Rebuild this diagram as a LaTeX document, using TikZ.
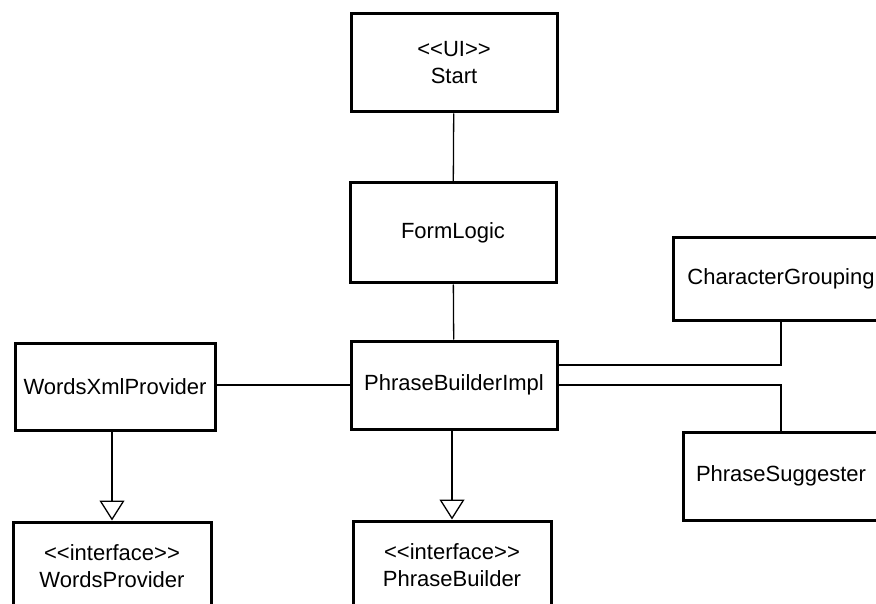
\documentclass[tikz,border=0pt]{standalone}
\usepackage{fontspec}
\setmainfont{Liberation Sans}
\usetikzlibrary{arrows.meta,positioning}
\tikzstyle{cls}=[rectangle, draw=black, fill=white, line width=3, inner sep=0pt, align=center, font=\fontsize{22}{27}\selectfont]
\tikzstyle{l1}=[line width=1.3]
\tikzstyle{realize}=[l1, -{Triangle[open, length=20pt, width=25pt, line width=1.3pt]}]
\newcommand{\stereo}[1]{<\kern0pt<#1>\kern0pt>}

\begin{document}
\begin{tikzpicture}[x=1pt, y=-1pt]
    \useasboundingbox (0,0) rectangle (876,604);
    \fill[white] (0,0) rectangle (876,604);
    \clip (0,0) rectangle (876,604);

    \node[cls, minimum width=206, minimum height=98] at (454,63) (start) {\stereo{UI}\\Start};
    \node[cls, minimum width=206, minimum height=100] at (453,233) (form) {FormLogic};
    \node[cls, minimum width=206, minimum height=88] at (454,385) (impl) {PhraseBuilderImpl};
    \node[cls, minimum width=200, minimum height=87] at (115,387) (wxml) {WordsXmlProvider};
    \node[cls, minimum width=198, minimum height=88] at (112,566) (wprov) {\stereo{interface}\\WordsProvider};
    \node[cls, minimum width=198, minimum height=88] at (452,565) (pbuild) {\stereo{interface}\\PhraseBuilder};
    \node[cls, minimum width=216, minimum height=83] at (781,279) (cgroup) {CharacterGrouping};
    \node[cls, minimum width=196, minimum height=88] at (781,476) (sugg) {PhraseSuggester};

    \draw[l1] (start) -- (form);
    \draw[l1] (form) -- (impl);
    \draw[l1] (impl.west) -- (impl.west -| wxml.east);
    \draw[l1] ([yshift=20pt]impl.east) -| (cgroup.south);
    \draw[l1] (impl.east) -| (sugg.north);
    \draw[realize] (wprov.north |- wxml.south) -- (wprov.north);
    \draw[realize] (pbuild.north |- impl.south) -- (pbuild.north);
\end{tikzpicture}
\end{document}
